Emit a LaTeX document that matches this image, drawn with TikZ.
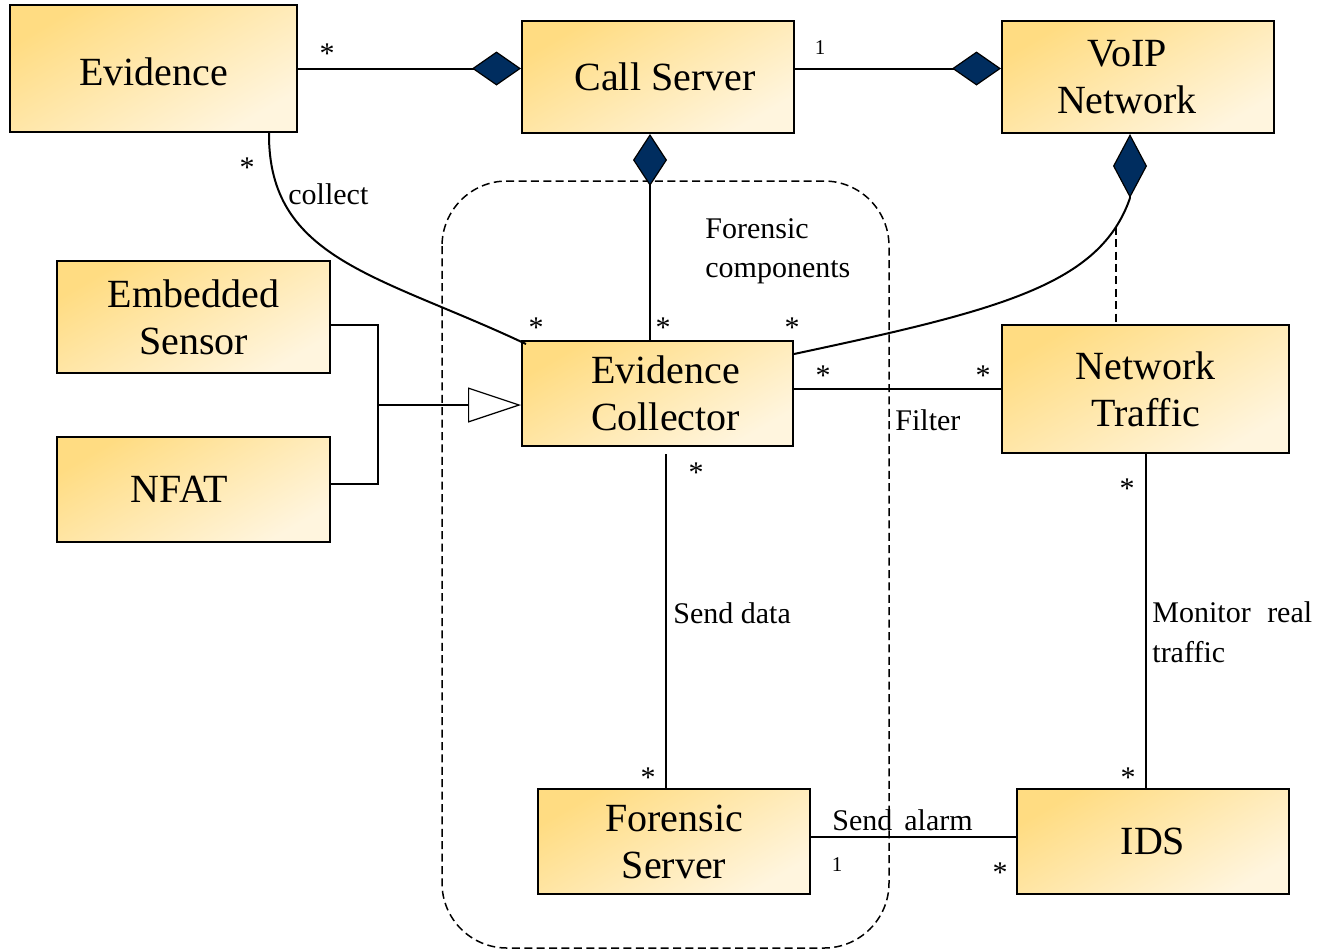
\documentclass[tikz,border=0pt]{standalone}
\usepackage{fontspec}
\setmainfont{Liberation Serif}
\usetikzlibrary{arrows.meta}
\definecolor{boxtop}{RGB}{255,220,130}
\definecolor{boxbot}{RGB}{255,245,222}
\definecolor{navy}{RGB}{0,45,95}
\begin{document}
\begin{tikzpicture}[x=0.5pt,y=-0.5pt,
  box/.style={draw=black, line width=1pt, top color=boxtop, bottom color=boxbot,
    shading angle=30, align=center, inner sep=0pt,
    font=\fontsize{20}{23.5}\selectfont},
  con/.style={line width=1pt},
  dashline/.style={line width=0.75pt, dash pattern=on 4pt off 2.2pt},
  dia/.style={-{Diamond[length=#1,width=17pt,fill=navy,line width=0.6pt]}},
  gen/.style={-{Triangle[open,length=26.5pt,width=17.5pt,fill=white,line width=0.6pt]}},
  lab/.style={font=\fontsize{15}{19.5}\selectfont, inner sep=0pt, anchor=base west},
  mult/.style={font=\fontsize{15}{18}\selectfont, inner sep=0pt, anchor=base},
  one/.style={font=\fontsize{10.5}{12}\selectfont, inner sep=0pt, anchor=base}]
\useasboundingbox (0,0) rectangle (1318,950);

% forensic components boundary
\draw[dashline, rounded corners=32.5pt] (442,181) rectangle (889,948);

% boxes
\node[box, minimum width=143.5pt, minimum height=63.5pt] (ev) at (153.5,68.5) {\rule{0pt}{17pt}Evidence};
\node[box, minimum width=136pt, minimum height=56pt] (cs) at (658,77) {\hspace*{7pt}Call Server};
\node[box, minimum width=136pt, minimum height=56pt] (voip) at (1138,77) {VoIP\hspace*{11pt}\\Network\hspace*{11pt}};
\node[box, minimum width=136.5pt, minimum height=56pt] (emb) at (193.5,317) {Embedded\\Sensor};
\node[box, minimum width=136.5pt, minimum height=52.5pt] (nfat) at (193.5,489.5) {NFAT\hspace*{14pt}};
\node[box, minimum width=135.5pt, minimum height=52.5pt] (ec) at (657.5,393.5) {\hspace*{8pt}Evidence\\\hspace*{8pt}Collector};
\node[box, minimum width=143.5pt, minimum height=64pt] (nt) at (1145.5,389) {Network\\Traffic};
\node[box, minimum width=136pt, minimum height=52.5pt] (fs) at (674,841.5) {Forensic\\Server};
\node[box, minimum width=136pt, minimum height=52.5pt] (ids) at (1153,841.5) {IDS};

% Evidence -- Call Server
\draw[con, dia=24.5pt] (ev.east) -- (ev.east -| cs.west);
% Call Server -- VoIP Network
\draw[con, dia=24.5pt] (cs.east |- ev.east) -- (voip.west |- ev.east);
% Evidence Collector -- Call Server
\draw[con, dia=26pt] ([xshift=-3.75pt]ec.north) -- ([xshift=-3.75pt]ec.north |- cs.south);
% Evidence Collector -- VoIP Network
\coordinate (vd) at ([xshift=-4pt,yshift=-32pt]voip.south);
\draw[con, dia=32pt] (vd) -- (vd |- voip.south);
\draw[con] ([yshift=-7pt]ec.north east) .. controls (1000,310) and (1100,285) .. (vd)
  coordinate[pos=0.88] (ac);
\draw[dashline] (ac) -- (ac |- nt.north);
% Evidence -- Evidence Collector (collect)
\draw[con] ([xshift=-14.5pt]ev.south east) .. controls (268,260) and (380,275) .. ([xshift=2.5pt,yshift=-2pt]ec.north west);
% generalization
\coordinate (j) at (378,405);
\draw[con] ([yshift=-4pt]emb.east) -| (j);
\draw[con] ([yshift=2.75pt]nfat.east) -| (j);
\draw[con, gen] (j) -- (j -| ec.west);
% Evidence Collector -- Network Traffic
\draw[con] (nt.west) -- (nt.west -| ec.east);
% Evidence Collector -- Forensic Server
\draw[con, shorten >=3.5pt] ([xshift=-4pt]fs.north) -- ([xshift=-4pt]fs.north |- ec.south);
% Network Traffic -- IDS
\draw[con] (nt.south) -- (nt.south |- ids.north);
% Forensic Server -- IDS
\draw[con] ([yshift=2.25pt]fs.east) -- ([yshift=2.25pt]fs.east -| ids.west);

% multiplicities
\node[mult] (m1) at (327,63) {*};
\node[one] (m2) at (820,54) {1};
\node[mult] (m3) at (247,177) {*};
\node[mult] (m4) at (536,337) {*};
\node[mult] (m5) at (663,337) {*};
\node[mult] (m6) at (792,337) {*};
\node[mult] (m7) at (823,385) {*};
\node[mult] (m8) at (983,385) {*};
\node[mult] (m9) at (696,482) {*};
\node[mult] (m10) at (648,787) {*};
\node[mult] (m11) at (1127,498) {*};
\node[mult] (m12) at (1128,787) {*};
\node[one] (m13) at (837,871) {1};
\node[mult] (m14) at (1000,882) {*};

% labels
\node[lab] (l1) at (288,204) {collect};
\node[lab] (l2) at (705,238) {Forensic};
\node[lab] (l3) at (705,277) {components};
\node[lab] (l4) at (895,430) {Filter};
\node[lab] (l5) at (673,623) {Send data};
\node[lab] (l6) at (1152,622) {Monitor\hspace{0.55em}real};
\node[lab] (l7) at (1152,662) {traffic};
\node[lab] (l8) at (832,830) {Send\hspace{0.4em}alarm};
\end{tikzpicture}
\end{document}
